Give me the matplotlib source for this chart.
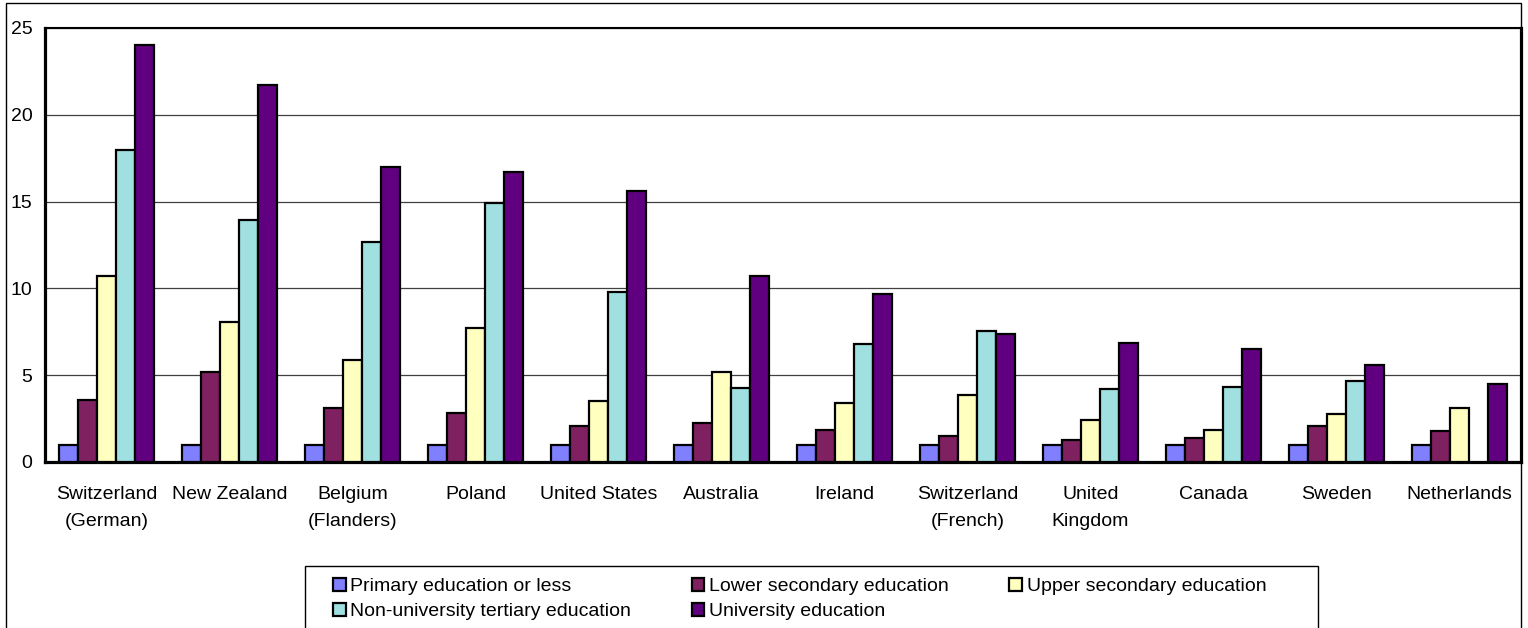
import matplotlib.pyplot as plt
import matplotlib.patches as patches
import numpy as np

plt.rcParams['font.family'] = ['Liberation Sans', 'DejaVu Sans']

countries = ["Switzerland\n(German)", "New Zealand", "Belgium\n(Flanders)", "Poland",
             "United States", "Australia", "Ireland", "Switzerland\n(French)",
             "United\nKingdom", "Canada", "Sweden", "Netherlands"]

primary = [1.0, 1.0, 1.0, 1.0, 1.0, 1.0, 1.0, 1.0, 1.0, 1.0, 1.0, 1.0]
lower_sec = [3.6, 5.2, 3.1, 2.8, 2.05, 2.25, 1.85, 1.52, 1.25, 1.36, 2.07, 1.8]
upper_sec = [10.7, 8.05, 5.9, 7.7, 3.53, 5.2, 3.38, 3.86, 2.42, 1.84, 2.78, 3.1]
non_univ = [18.0, 13.95, 12.7, 14.9, 9.8, 4.24, 6.78, 7.55, 4.2, 4.3, 4.68, np.nan]
university = [24.0, 21.7, 17.0, 16.7, 15.6, 10.7, 9.65, 7.38, 6.87, 6.5, 5.6, 4.47]

series = [primary, lower_sec, upper_sec, non_univ, university]
labels = ["Primary education or less", "Lower secondary education",
          "Upper secondary education", "Non-university tertiary education",
          "University education"]
colors = ["#8080FF", "#7F2060", "#FFFFC0", "#A0E0E0", "#600080"]

W, H = 1528, 628
fig = plt.figure(figsize=(W / 100, H / 100), dpi=100)
ax = fig.add_axes([45 / W, 1 - 462 / H, (1521 - 45) / W, (462 - 28) / H])

x = np.arange(len(countries))
w = 0.155
handles = []
for i, (vals, lab, col) in enumerate(zip(series, labels, colors)):
    b = ax.bar(x + (i - 2) * w, vals, width=w, color=col, edgecolor='black',
               linewidth=1.6, label=lab, zorder=3)
    handles.append(b)

ax.set_xlim(-0.5, len(countries) - 0.5)
ax.set_ylim(0, 25)
ax.set_yticks([0, 5, 10, 15, 20, 25])
ax.set_xticks(x)
ax.set_xticklabels(countries, fontsize=14, linespacing=1.8)
ax.tick_params(axis='y', length=0, pad=9, labelsize=14)
ax.tick_params(axis='x', length=0, pad=17)
ax.yaxis.grid(True, color='#404040', linewidth=0.9)
ax.set_axisbelow(True)
for s in ['left', 'bottom', 'right']:
    ax.spines[s].set_linewidth(2.3)
ax.spines['top'].set_linewidth(1.5)

# outer chart frame
fig.patches.append(patches.Rectangle((6 / W, -0.05), (1521 - 6) / W, 1 - 3 / H + 0.05,
                                     transform=fig.transFigure, fill=False,
                                     edgecolor='black', linewidth=1.0, zorder=0))
# legend frame
fig.patches.append(patches.Rectangle((305 / W, -0.05), (1318 - 305) / W, 1 - 566 / H + 0.05,
                                     transform=fig.transFigure, fill=False,
                                     edgecolor='black', linewidth=1.0, zorder=0))

order = [0, 3, 1, 4, 2]
leg = fig.legend([handles[k] for k in order], [labels[k] for k in order], ncol=3,
                 loc='upper left', bbox_to_anchor=(333 / W, 1 - 578 / H),
                 frameon=False, fontsize=14, handlelength=0.65, handleheight=0.65,
                 handletextpad=0.25, columnspacing=3.1, labelspacing=0.4,
                 borderpad=0, borderaxespad=0)

fig.savefig("out.png", dpi=100)
